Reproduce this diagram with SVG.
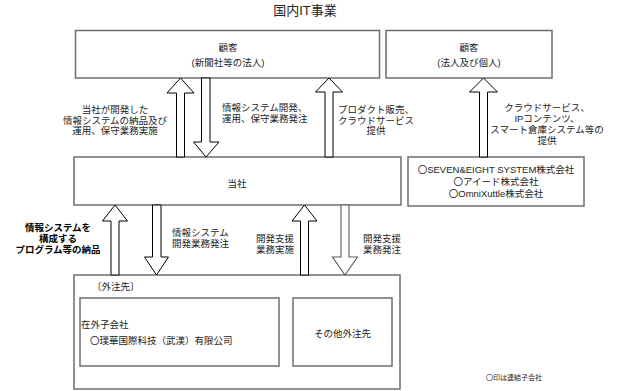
<svg xmlns="http://www.w3.org/2000/svg" width="617" height="391" viewBox="0 0 617 391">
<style>
text{font-family:"Liberation Sans","Noto Sans CJK JP",sans-serif;font-size:9.5px;fill:#222}
.c{text-anchor:middle}
.b{font-weight:bold;fill:#000}
.box{fill:#fff;stroke:#6e6e6e;stroke-width:1.5}
.arr{fill:#fff;stroke:#000;stroke-width:1}
.arrg{fill:#fff;stroke:#5a5a5a;stroke-width:1.1}
</style>
<rect width="617" height="391" fill="#fff"/>
<text class="c" x="305" y="15" style="font-size:13px">国内IT事業</text>

<g id="customer-corp">
<rect class="box" x="75.5" y="30.5" width="304" height="47.5"/>
<text class="c" x="228" y="50.5">顧客</text>
<text class="c" x="228" y="66">(新聞社等の法人)</text>
</g>
<g id="customer-indiv">
<rect class="box" x="386" y="30.5" width="166" height="47.5"/>
<text class="c" x="469" y="50.5">顧客</text>
<text class="c" x="469" y="66">(法人及び個人)</text>
</g>
<g id="company">
<rect class="box" x="74" y="157" width="327" height="48"/>
<text class="c" x="237" y="186.5">当社</text>
</g>
<g id="subsidiaries">
<rect class="box" x="408" y="157" width="176" height="49"/>
<text class="c" x="496" y="172.5">〇SEVEN&amp;EIGHT SYSTEM株式会社</text>
<text class="c" x="496" y="184.5">〇アイード株式会社</text>
<text class="c" x="496" y="196.5">〇OmniXuttle株式会社</text>
</g>
<g id="outsource">
<rect class="box" x="74" y="275" width="326" height="114"/>
<text x="92" y="289.5">〔外注先〕</text>
</g>
<g id="overseas">
<rect class="box" x="80" y="298" width="199" height="68"/>
<text x="81" y="327.5">在外子会社</text>
<text x="90" y="343.5">〇璞華国際科技（武漢）有限公司</text>
</g>
<g id="other">
<rect class="box" x="293" y="298" width="99" height="68"/>
<text class="c" x="342.5" y="336.5">その他外注先</text>
</g>

<g id="connectors">
<polygon class="arr" points="180.5,78 194,93 184.5,93 184.5,157 176.5,157 176.5,93 167,93"/>
<polygon class="arr" points="206,157 219,142 210,142 210,78 201.5,78 201.5,142 193.5,142"/>
<polygon class="arr" points="329,78 342.5,92 333,92 333,157 325,157 325,92 315.5,92"/>
<polygon class="arr" points="483.5,78 497.5,92 487.5,92 487.5,157 479.5,157 479.5,92 469.5,92"/>
<polygon class="arr" points="115,205 127.5,221 119,221 119,275 111,275 111,221 102.5,221"/>
<polygon class="arr" points="156.5,275 168.5,257 161,257 161,205 152.5,205 152.5,257 144.5,257"/>
<polygon class="arr" points="304.5,205 317,221 308.5,221 308.5,275 300.5,275 300.5,221 292,221"/>
<polygon class="arrg" points="345,275 357.5,257 349,257 349,205 341,205 341,257 332.5,257"/>
</g>

<g id="labels">
<text class="c" x="115" y="113">当社が開発した</text>
<text class="c" x="115" y="123.5">情報システムの納品及び</text>
<text class="c" x="115" y="134">運用、保守業務実施</text>
<text x="222" y="111">情報システム開発、</text>
<text x="222" y="121.6">運用、保守業務発注</text>
<text class="c" x="376" y="113">プロダクト販売、</text>
<text class="c" x="376" y="123.5">クラウドサービス</text>
<text class="c" x="376" y="134">提供</text>
<text class="c" x="547" y="110.5">クラウドサービス、</text>
<text class="c" x="547" y="121.5">IPコンテンツ、</text>
<text class="c" x="547" y="132.5">スマート倉庫システム等の</text>
<text class="c" x="547" y="143.5">提供</text>
<text class="c b" x="58" y="231">情報システムを</text>
<text class="c b" x="58" y="241.6">構成する</text>
<text class="c b" x="58" y="252.6">プログラム等の納品</text>
<text x="172" y="235.5">情報システム</text>
<text x="172" y="246.5">開発業務発注</text>
<text x="256" y="241.5">開発支援</text>
<text x="256" y="252.5">業務実施</text>
<text x="363" y="241.5">開発支援</text>
<text x="363" y="252.5">業務発注</text>
<text x="486" y="379.5" style="font-size:7px">〇印は連結子会社</text>
</g>
</svg>
